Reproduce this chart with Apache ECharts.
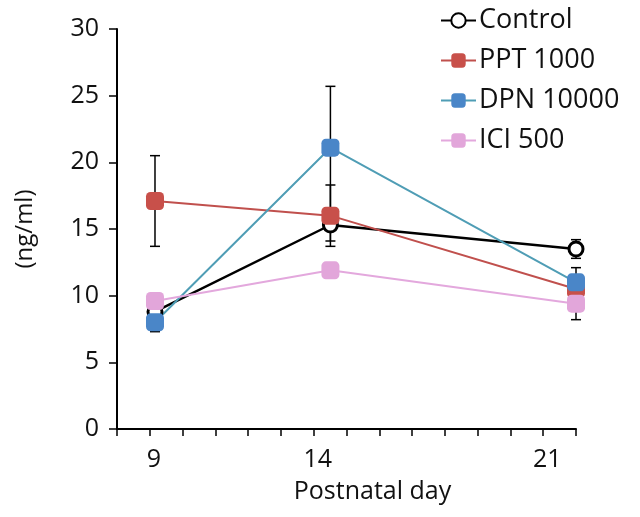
<!DOCTYPE html>
<html>
<head>
<meta charset="utf-8">
<script src="https://cdn.jsdelivr.net/npm/echarts@6/dist/echarts.min.js"></script>
<style>
  html, body { margin: 0; padding: 0; background: #fff; }
  #main { width: 640px; height: 517px; }
</style>
</head>
<body>
<div id="main"></div>
<script>
// postnatal days and group means (ng/ml) with error bar half-widths
const days = [9, 14, 21];
const control = [8.8, 15.3, 13.5];
const controlErr = [0.5, 1.2, 0.7];
const ppt = [17.1, 16.0, 10.5];
const pptErr = [3.4, 2.3, 0.8];
const dpn = [8.0, 21.1, 11.0];
const dpnErr = [0.7, 4.6, 1.1];
const ici = [9.6, 11.9, 9.4];
const iciErr = [0.4, 0.4, 1.2];
const dayLabels = [9, 14, 21];

const font = '"Open Sans", sans-serif';
const myChart = echarts.init(document.getElementById('main'), null, {renderer: 'canvas'});

function pts(vals) {
    return days.map((d, i) => [d, vals[i]]);
}

// error bars drawn as a custom series
function errBars(vals, errs) {
    return {
        type: 'custom',
        xAxisIndex: 1,
        z: 1,
        silent: true,
        clip: false,
        data: days.map((d, i) => [d, vals[i] - errs[i], vals[i] + errs[i]]),
        renderItem: (params, api) => {
            const lo = api.coord([api.value(0), api.value(1)]);
            const hi = api.coord([api.value(0), api.value(2)]);
            const w = 5;
            const st = {stroke: '#000', lineWidth: 1.5};
            return {
                type: 'group',
                children: [
                    {type: 'line', shape: {x1: lo[0], y1: lo[1], x2: hi[0], y2: hi[1]}, style: st},
                    {type: 'line', shape: {x1: lo[0] - w, y1: lo[1], x2: lo[0] + w, y2: lo[1]}, style: st},
                    {type: 'line', shape: {x1: hi[0] - w, y1: hi[1], x2: hi[0] + w, y2: hi[1]}, style: st}
                ]
            };
        }
    };
}

function lineSeries(name, vals, lineColor, markColor, symbol, size) {
    return {
        name,
        type: 'line',
        xAxisIndex: 1,
        z: 3,
        clip: false,
        data: pts(vals),
        symbol,
        symbolSize: size,
        lineStyle: {color: lineColor, width: 2},
        itemStyle: {color: markColor},
        emphasis: {disabled: true}
    };
}

const option = {
    animation: false,
    textStyle: {fontFamily: font},
    grid: {left: 117, right: 64, top: 29, bottom: 88},
    legend: {
        orient: 'vertical',
        left: 435,
        top: 2,
        itemWidth: 35,
        itemHeight: 18,
        itemGap: 13,
        textStyle: {fontFamily: font, fontSize: 27, color: '#111', padding: [0, 0, 0, -2]},
        data: ['Control', 'PPT 1000', 'DPN 10000', 'ICI 500']
    },
    xAxis: [
        {
            type: 'value',
            min: 8,
            max: 22,
            interval: 1,
            name: 'Postnatal day',
            nameLocation: 'middle',
            nameGap: 50,
            nameTextStyle: {fontFamily: font, fontSize: 25, color: '#111', padding: [0, 0, 0, 52]},
            axisLine: {show: true, lineStyle: {color: '#000', width: 2}},
            axisTick: {show: true, length: 7, lineStyle: {color: '#000', width: 1.5}},
            axisLabel: {
                margin: 18,
                fontSize: 25,
                color: '#111',
                padding: [0, 0, 0, 8],
                formatter: v => dayLabels.includes(v) ? String(v) : ''
            },
            splitLine: {show: false}
        },
        {
            type: 'value',
            min: 7.917,
            max: 21,
            show: false
        }
    ],
    yAxis: {
        type: 'value',
        min: 0,
        max: 30,
        interval: 5,
        name: '(ng/ml)',
        nameLocation: 'middle',
        nameGap: 80,
        nameTextStyle: {fontFamily: font, fontSize: 24, color: '#111'},
        axisLine: {show: true, lineStyle: {color: '#000', width: 2}},
        axisTick: {show: true, length: 8, lineStyle: {color: '#000', width: 1.5}},
        axisLabel: {margin: 18, fontSize: 25, color: '#111'},
        splitLine: {show: false}
    },
    series: [
        errBars(control, controlErr),
        errBars(ppt, pptErr),
        errBars(dpn, dpnErr),
        errBars(ici, iciErr),
        Object.assign(lineSeries('Control', control, '#000', '#fff', 'circle', 14), {
            lineStyle: {color: '#000', width: 2.5},
            itemStyle: {color: '#fff', borderColor: '#000', borderWidth: 3}
        }),
        lineSeries('PPT 1000', ppt, '#c0504d', '#c8504a', 'roundRect', 18),
        lineSeries('DPN 10000', dpn, '#4f9db5', '#4a86c8', 'roundRect', 18),
        lineSeries('ICI 500', ici, '#e3a8dd', '#e2a6da', 'roundRect', 18)
    ]
};

myChart.setOption(option);
</script>
</body>
</html>
